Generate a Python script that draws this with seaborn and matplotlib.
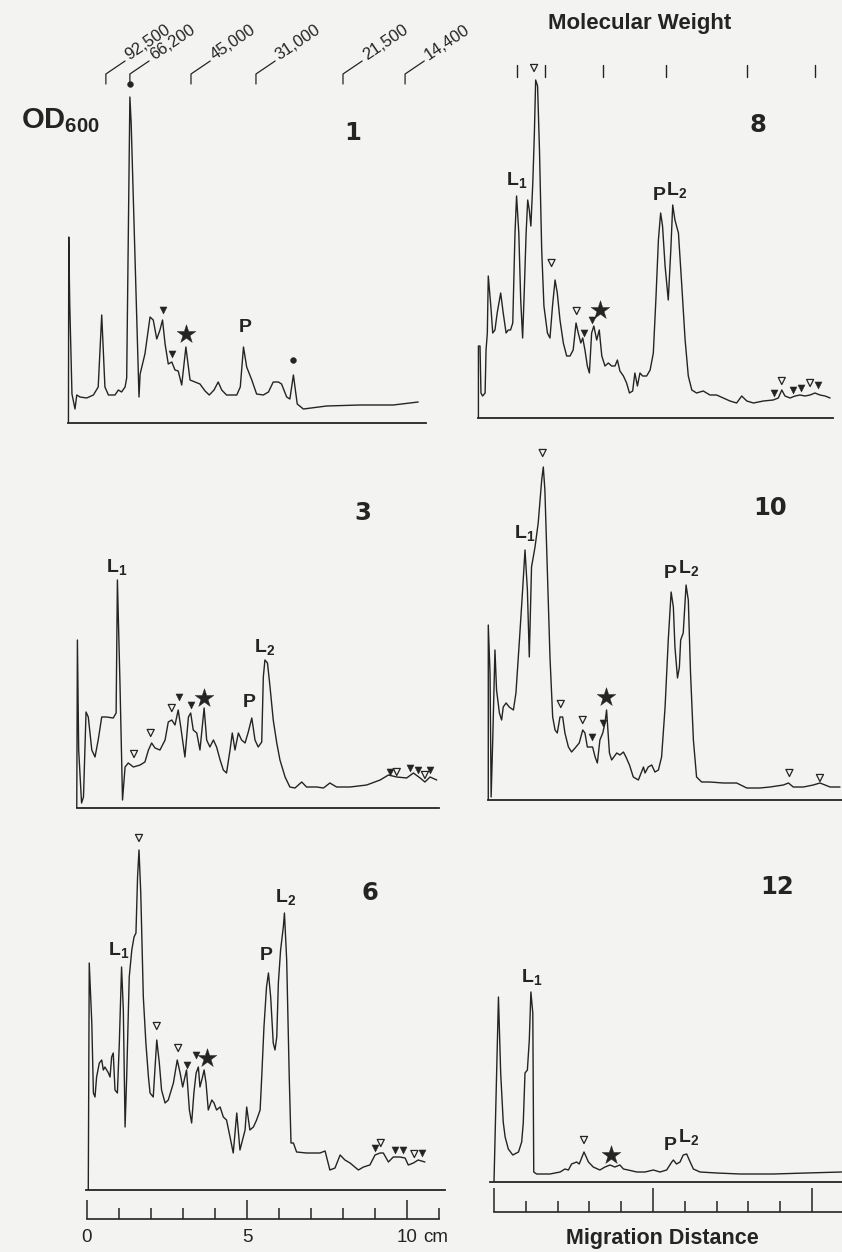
import matplotlib
matplotlib.use("Agg")
import matplotlib.pyplot as plt
import pandas as pd
import seaborn as sns

sns.set_theme(style="white")
plt.rcParams["font.family"] = ["Liberation Sans", "DejaVu Sans"]
plt.rcParams["mathtext.fontset"] = "custom"
plt.rcParams["mathtext.rm"] = "Liberation Sans:bold"
plt.rcParams["mathtext.it"] = "Liberation Sans:bold"
plt.rcParams["mathtext.bf"] = "Liberation Sans:bold"

# ---------------- data (migration distance in cm, OD in arbitrary units) -------------
mw_labels = ["92,500", "66,200", "45,000", "31,000", "21,500", "14,400"]
mw_pos_left = [0.59, 1.34, 3.25, 5.28, 8.0, 9.94]
mw_pos_right = [0.72, 1.60, 3.43, 5.41, 7.96, 10.1]

p1_trace = [(-0.58, 0), (-0.57, 186), (-0.54, 120), (-0.47, 29), (-0.375, 14), (-0.32, 28), (-0.22, 26),
            (-0.01, 25), (0.20, 28), (0.35, 36), (0.46, 108), (0.56, 36), (0.67, 28), (0.875, 28), (0.98, 33),
            (1.08, 31), (1.19, 36), (1.24, 45), (1.34, 326), (1.38, 300), (1.625, 26), (1.66, 49), (1.81, 69),
            (1.97, 106), (2.07, 103), (2.18, 84), (2.28, 93), (2.36, 103), (2.44, 79), (2.54, 59), (2.65, 61),
            (2.75, 53), (2.85, 52), (2.96, 38), (3.09, 76), (3.22, 43), (3.375, 41), (3.53, 39), (3.69, 32),
            (3.82, 28), (3.97, 33), (4.10, 41), (4.21, 33), (4.36, 28), (4.68, 28), (4.79, 36), (4.89, 76),
            (4.99, 56), (5.15, 43), (5.30, 29), (5.51, 28), (5.67, 31), (5.82, 41), (5.98, 41), (6.08, 39),
            (6.24, 26), (6.34, 24), (6.45, 48), (6.57, 19), (6.76, 14), (7.49, 17), (8.53, 18), (9.57, 18),
            (10.35, 21)]
p1_fill = [(2.36, 113), (2.65, 69)]
p1_star = [(3.09, 89)]
p1_dot = [(1.34, 339), (6.45, 63)]
p1_peaks = [("P", 4.94, 95)]

p3_trace = [(-0.32, 0), (-0.30, 168), (-0.26, 58), (-0.17, 5), (-0.11, 11), (-0.03, 96), (0.04, 91), (0.15, 58),
            (0.25, 51), (0.35, 68), (0.46, 91), (0.61, 91), (0.82, 90), (0.91, 95), (0.95, 228), (1.03, 125),
            (1.11, 8), (1.19, 41), (1.29, 45), (1.45, 41), (1.66, 43), (1.81, 46), (1.92, 58), (2.02, 65),
            (2.125, 60), (2.28, 58), (2.44, 68), (2.54, 86), (2.65, 88), (2.75, 83), (2.85, 98), (2.93, 81),
            (3.06, 51), (3.17, 91), (3.24, 95), (3.32, 78), (3.43, 75), (3.53, 58), (3.66, 100), (3.74, 68),
            (3.84, 61), (3.95, 68), (4.05, 61), (4.16, 48), (4.26, 38), (4.36, 35), (4.47, 58), (4.54, 75),
            (4.625, 58), (4.73, 75), (4.83, 68), (4.94, 65), (5.04, 76), (5.15, 90), (5.25, 68), (5.35, 61),
            (5.46, 66), (5.51, 131), (5.56, 148), (5.64, 145), (5.72, 121), (5.82, 88), (5.93, 65), (6.03, 48),
            (6.19, 31), (6.34, 21), (6.5, 20), (6.71, 26), (6.86, 21), (7.18, 21), (7.39, 20), (7.59, 25),
            (7.80, 21), (8.22, 21), (8.74, 23), (9.16, 28), (9.42, 33), (9.68, 31), (9.99, 30), (10.2, 35),
            (10.41, 30), (10.56, 26), (10.72, 31), (10.93, 28)]
p3_open = [(1.47, 54), (1.99, 75), (2.65, 100), (9.68, 36), (10.56, 33)]
p3_fill = [(2.875, 111), (3.24, 103), (9.47, 36), (10.09, 40), (10.35, 38), (10.72, 38)]
p3_star = [(3.66, 110)]
p3_peaks = [("L$_1$", 0.93, 241), ("P", 5.06, 105), ("L$_2$", 5.56, 161)]

p6_trace = [(0.04, 0), (0.07, 227), (0.15, 167), (0.20, 97), (0.25, 93), (0.30, 113), (0.385, 127), (0.46, 130),
            (0.51, 120), (0.56, 123), (0.67, 117), (0.72, 113), (0.77, 133), (0.82, 137), (0.875, 100),
            (0.95, 97), (1.01, 147), (1.08, 223), (1.135, 180), (1.19, 63), (1.24, 113), (1.32, 213),
            (1.40, 240), (1.47, 253), (1.53, 257), (1.58, 313), (1.625, 340), (1.68, 297), (1.76, 193),
            (1.84, 147), (1.92, 113), (1.97, 97), (2.07, 93), (2.18, 150), (2.26, 127), (2.33, 100), (2.44, 87),
            (2.54, 90), (2.70, 107), (2.82, 130), (2.91, 117), (2.99, 103), (3.06, 113), (3.11, 120), (3.20, 80),
            (3.27, 67), (3.34, 97), (3.41, 117), (3.48, 123), (3.53, 103), (3.61, 113), (3.66, 120), (3.72, 107),
            (3.79, 80), (3.90, 90), (3.97, 87), (4.05, 80), (4.16, 83), (4.26, 73), (4.36, 70), (4.47, 53),
            (4.57, 37), (4.68, 77), (4.78, 40), (4.94, 60), (4.99, 83), (5.09, 60), (5.20, 63), (5.30, 70),
            (5.41, 80), (5.46, 113), (5.53, 163), (5.61, 203), (5.67, 217), (5.74, 193), (5.82, 147),
            (5.875, 140), (5.93, 153), (5.98, 207), (6.05, 240), (6.135, 263), (6.17, 277), (6.24, 230),
            (6.32, 113), (6.375, 47), (6.45, 47), (6.55, 38), (6.86, 37), (7.28, 37), (7.44, 39), (7.59, 20),
            (7.75, 22), (7.91, 35), (8.06, 30), (8.22, 27), (8.48, 20), (8.64, 23), (8.84, 25), (9.0, 35),
            (9.16, 37), (9.26, 37), (9.42, 28), (9.57, 33), (9.78, 33), (9.94, 32), (10.04, 25), (10.2, 27),
            (10.35, 30), (10.56, 28)]
p6_open = [(1.625, 352), (2.18, 164), (2.85, 142), (9.18, 47), (10.23, 36)]
p6_fill = [(3.11, 125), (3.41, 135), (9.0, 42), (9.625, 40), (9.86, 40), (10.46, 37)]
p6_star = [(3.74, 132)]
p6_peaks = [("L$_1$", 0.98, 240), ("P", 5.61, 235), ("L$_2$", 6.19, 293)]

p8_trace = [(-0.49, 0), (-0.49, 72), (-0.44, 72), (-0.41, 25), (-0.36, 22), (-0.28, 25), (-0.25, 68), (-0.21, 85),
            (-0.18, 142), (-0.10, 112), (-0.04, 85), (0.03, 88), (0.10, 105), (0.21, 125), (0.29, 105),
            (0.38, 85), (0.45, 88), (0.52, 88), (0.59, 95), (0.66, 185), (0.71, 222), (0.78, 185), (0.84, 118),
            (0.90, 80), (0.95, 125), (1.01, 185), (1.06, 218), (1.11, 208), (1.16, 192), (1.22, 235), (1.27, 285),
            (1.31, 338), (1.37, 332), (1.43, 268), (1.50, 168), (1.57, 112), (1.68, 85), (1.76, 80), (1.84, 112),
            (1.92, 138), (1.99, 125), (2.075, 98), (2.18, 75), (2.285, 62), (2.39, 62), (2.49, 68), (2.58, 95),
            (2.65, 85), (2.73, 75), (2.79, 80), (2.86, 68), (2.935, 52), (3.0, 45), (3.07, 85), (3.14, 92),
            (3.23, 78), (3.31, 88), (3.39, 62), (3.49, 52), (3.595, 55), (3.70, 52), (3.805, 52), (3.88, 58),
            (3.96, 47), (4.07, 42), (4.17, 35), (4.26, 25), (4.36, 27), (4.43, 45), (4.51, 32), (4.59, 45),
            (4.675, 42), (4.80, 42), (4.91, 48), (5.01, 65), (5.09, 118), (5.17, 178), (5.24, 205), (5.30, 192),
            (5.38, 152), (5.48, 118), (5.56, 168), (5.62, 213), (5.69, 198), (5.80, 185), (5.90, 135),
            (6.01, 78), (6.11, 42), (6.22, 28), (6.37, 25), (6.58, 27), (6.79, 23), (7.0, 23), (7.21, 20),
            (7.42, 17), (7.63, 15), (7.79, 22), (7.95, 17), (8.16, 15), (8.47, 17), (8.78, 18), (8.94, 20),
            (9.05, 28), (9.15, 22), (9.31, 20), (9.47, 22), (9.62, 23), (9.78, 22), (9.94, 23), (10.09, 25),
            (10.25, 23), (10.41, 22), (10.57, 20)]
p8_open = [(1.26, 350), (1.81, 155), (2.60, 107), (9.05, 37), (9.94, 35)]
p8_fill = [(2.84, 85), (3.07, 98), (8.80, 25), (9.41, 28), (9.64, 30), (10.2, 33)]
p8_star = [(3.33, 108)]
p8_peaks = [("L$_1$", 0.71, 238), ("P", 5.19, 223), ("L$_2$", 5.74, 228)]

p10_trace = [(-0.18, 0), (-0.18, 175), (-0.125, 127), (-0.09, 3), (-0.04, 60), (0.03, 150), (0.08, 110),
             (0.17, 87), (0.24, 80), (0.29, 93), (0.38, 97), (0.48, 93), (0.61, 90), (0.69, 107), (0.80, 160),
             (0.90, 210), (0.975, 250), (1.05, 210), (1.11, 143), (1.18, 233), (1.29, 253), (1.39, 277),
             (1.50, 320), (1.55, 333), (1.60, 310), (1.68, 227), (1.76, 143), (1.845, 83), (1.92, 70), (1.99, 67),
             (2.075, 83), (2.16, 83), (2.23, 67), (2.34, 53), (2.44, 48), (2.55, 52), (2.68, 57), (2.79, 70),
             (2.86, 67), (2.935, 53), (3.02, 53), (3.10, 53), (3.18, 43), (3.25, 37), (3.33, 60), (3.42, 67),
             (3.49, 77), (3.54, 90), (3.63, 47), (3.70, 40), (3.86, 47), (3.96, 45), (4.07, 48), (4.15, 43),
             (4.26, 35), (4.38, 23), (4.54, 20), (4.70, 33), (4.75, 27), (4.85, 33), (4.96, 35), (5.06, 28),
             (5.17, 30), (5.27, 43), (5.38, 93), (5.48, 160), (5.57, 208), (5.64, 193), (5.69, 153), (5.77, 122),
             (5.83, 133), (5.87, 160), (5.95, 167), (6.04, 215), (6.11, 200), (6.18, 127), (6.27, 60), (6.37, 23),
             (6.53, 18), (6.79, 18), (7.21, 17), (7.63, 17), (7.95, 12), (8.36, 12), (8.68, 13), (9.10, 15),
             (9.26, 17), (9.41, 13), (9.73, 13), (10.04, 15), (10.25, 17), (10.57, 13), (10.88, 13)]
p10_open = [(1.53, 347), (2.10, 96), (2.79, 80), (9.29, 27), (10.25, 22)]
p10_fill = [(3.09, 63), (3.42, 77)]
p10_star = [(3.52, 103)]
p10_peaks = [("L$_1$", 0.975, 267), ("P", 5.53, 227), ("L$_2$", 6.11, 232)]

p12_trace = [(0.0, 0), (0.14, 185), (0.21, 109), (0.29, 60), (0.35, 45), (0.45, 33), (0.59, 27), (0.77, 30),
             (0.87, 40), (0.92, 59), (0.975, 109), (1.05, 112), (1.11, 142), (1.16, 190), (1.22, 169),
             (1.25, 10), (1.34, 8), (1.76, 8), (2.08, 10), (2.23, 13), (2.34, 12), (2.44, 18), (2.60, 20),
             (2.68, 18), (2.83, 30), (2.97, 20), (3.12, 15), (3.33, 12), (3.49, 15), (3.65, 17), (3.80, 15),
             (3.96, 17), (4.07, 13), (4.22, 12), (4.49, 10), (4.75, 10), (5.01, 12), (5.22, 10), (5.43, 12),
             (5.59, 20), (5.64, 22), (5.74, 18), (5.85, 20), (5.95, 27), (6.06, 28), (6.14, 22), (6.27, 13),
             (6.48, 10), (7.0, 9), (7.74, 8), (8.78, 8), (9.83, 9), (10.93, 10)]
p12_open = [(2.83, 42)]
p12_star = [(3.67, 27)]
p12_peaks = [("L$_1$", 1.18, 205), ("P", 5.53, 37), ("L$_2$", 6.11, 45)]

panel_numbers = ["1", "3", "6", "8", "10", "12"]
panel_number_pos = [(8.31, 290), (8.63, 295), (8.84, 297), (8.3, 293), (8.68, 292), (8.89, 295)]

ruler_major = [0, 5, 10]
ruler_minor = [1, 2, 3, 4, 6, 7, 8, 9, 11]
ruler_labels = ["0", "5", "10"]

# ---------------- layout / style -------------
BG = "#f3f3f1"
INK = "#242424"
W, H, DPI = 842, 1252, 100
fig = plt.figure(figsize=(W / DPI, H / DPI), dpi=DPI, facecolor=BG)

LEFT = dict(left=55.0, width=390.4, xlim=(-1.0, 11.2))
RIGHT = dict(left=462.2, width=381.6, xlim=(-1.0, 11.0))
PANEL_H = 370
LW = 1.0


def px_axes(left, top, width, height):
    ax = fig.add_axes([left / W, 1 - (top + height) / H, width / W, height / H])
    ax.patch.set_alpha(0)
    return ax


def clean(ax):
    for s in ["top", "right", "left", "bottom"]:
        ax.spines[s].set_visible(False)
    ax.set_xticks([])
    ax.set_yticks([])
    ax.set_xlabel("")
    ax.set_ylabel("")


def scatter(ax, pts, marker, size, filled):
    if not pts:
        return
    df = pd.DataFrame(pts, columns=["cm", "od"])
    if filled:
        sns.scatterplot(data=df, x="cm", y="od", marker=marker, s=size, color=INK,
                        edgecolor=INK, linewidth=0.3, ax=ax, clip_on=False, zorder=4)
    else:
        sns.scatterplot(data=df, x="cm", y="od", marker=marker, s=size, facecolor="none",
                        edgecolor=INK, linewidth=0.9, ax=ax, clip_on=False, zorder=4)


def panel(col, base_px, trace, bounds, number, number_pos, opens=(), fills=(), stars=(), dots=(), peaks=()):
    ax = px_axes(col["left"], base_px - PANEL_H, col["width"], PANEL_H)
    df = pd.DataFrame(trace, columns=["cm", "od"])
    sns.lineplot(data=df, x="cm", y="od", sort=False, estimator=None, color=INK, lw=LW, ax=ax)
    scatter(ax, list(opens), "v", 26, False)
    scatter(ax, list(fills), "v", 26, True)
    scatter(ax, list(stars), "*", 200, True)
    scatter(ax, list(dots), "o", 18, True)
    for txt, x, y in peaks:
        ax.text(x, y, txt, ha="center", va="center", fontsize=14, fontweight="bold", color=INK)
    ax.text(number_pos[0], number_pos[1], number, ha="center", va="center", fontsize=17.5,
            fontweight="bold", family=["DejaVu Sans"], color=INK)
    ax.set_xlim(*col["xlim"])
    ax.set_ylim(0, PANEL_H)
    clean(ax)
    ax.spines["bottom"].set_visible(True)
    ax.spines["bottom"].set_bounds(*bounds)
    ax.spines["bottom"].set_color(INK)
    ax.spines["bottom"].set_linewidth(1.3)
    return ax


panel(LEFT, 423, p1_trace, (-0.58, 10.6), panel_numbers[0], panel_number_pos[0],
      fills=p1_fill, stars=p1_star, dots=p1_dot, peaks=p1_peaks)
panel(LEFT, 808, p3_trace, (-0.32, 11.0), panel_numbers[1], panel_number_pos[1],
      opens=p3_open, fills=p3_fill, stars=p3_star, peaks=p3_peaks)
panel(LEFT, 1190, p6_trace, (-0.03, 11.19), panel_numbers[2], panel_number_pos[2],
      opens=p6_open, fills=p6_fill, stars=p6_star, peaks=p6_peaks)
panel(RIGHT, 418, p8_trace, (-0.49, 10.67), panel_numbers[3], panel_number_pos[3],
      opens=p8_open, fills=p8_fill, stars=p8_star, peaks=p8_peaks)
panel(RIGHT, 800, p10_trace, (-0.19, 11.0), panel_numbers[4], panel_number_pos[4],
      opens=p10_open, fills=p10_fill, stars=p10_star, peaks=p10_peaks)
panel(RIGHT, 1182, p12_trace, (-0.13, 11.0), panel_numbers[5], panel_number_pos[5],
      opens=p12_open, stars=p12_star, peaks=p12_peaks)

# ---------------- molecular weight scales (top) -------------
axm = px_axes(LEFT["left"], 0, LEFT["width"], 100)
axm.set_xlim(*LEFT["xlim"])
axm.set_ylim(100, 0)
clean(axm)
for x, lab in zip(mw_pos_left, mw_labels):
    axm.plot([x, x, x + 0.6], [84, 74, 61], color=INK, lw=0.9, clip_on=False)
    axm.text(x + 0.74, 60, lab, rotation=34, rotation_mode="anchor", ha="left", va="baseline",
             fontsize=12, color=INK)

axn = px_axes(RIGHT["left"], 0, RIGHT["width"], 100)
axn.set_xlim(*RIGHT["xlim"])
axn.set_ylim(100, 0)
clean(axn)
for x in mw_pos_right:
    axn.plot([x, x], [65, 77], color=INK, lw=1.0, clip_on=False)
axn.text(4.59, 24, "Molecular Weight", ha="center", va="center", fontsize=16, fontweight="bold", color=INK)

fig.text(21 / W, 1 - 121 / H, "OD$_{600}$", ha="left", va="center", fontsize=21, fontweight="bold", color=INK)

# ---------------- rulers (bottom) -------------
def ruler(col, line_px, major_len, minor_len):
    ax = px_axes(col["left"], line_px - 40, col["width"], 40)
    ax.set_xlim(*col["xlim"])
    ax.set_ylim(0, 40)
    for s in ["top", "right", "left"]:
        ax.spines[s].set_visible(False)
    ax.spines["bottom"].set_bounds(0, 11)
    ax.spines["bottom"].set_color(INK)
    ax.spines["bottom"].set_linewidth(1.2)
    ax.set_yticks([])
    ax.set_xticks(ruler_major)
    ax.set_xticks(ruler_minor, minor=True)
    ax.tick_params(axis="x", which="major", direction="in", length=major_len, width=1.1,
                   color=INK, labelbottom=False, bottom=True)
    ax.tick_params(axis="x", which="minor", direction="in", length=minor_len, width=1.1,
                   color=INK, labelbottom=False, bottom=True)
    return ax


axr1 = ruler(LEFT, 1219, 14, 8)
for x, lab in zip(ruler_major, ruler_labels):
    axr1.text(x, -19, lab, ha="center", va="center", fontsize=13.5, color=INK, clip_on=False)
axr1.text(10.5, -19, "cm", ha="left", va="center", fontsize=13.5, color=INK, clip_on=False)

axr2 = ruler(RIGHT, 1212, 17, 8)
axr2.text(5.31, -32, "Migration Distance", ha="center", va="baseline", fontsize=15.5,
          fontweight="bold", color=INK, clip_on=False)

fig.savefig("out.png", dpi=DPI, facecolor=BG)
